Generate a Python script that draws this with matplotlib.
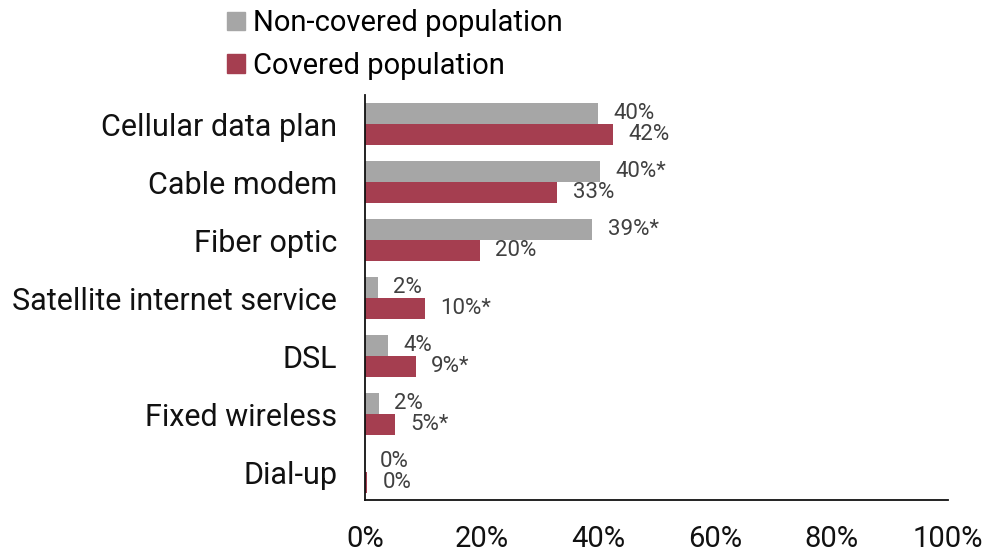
import matplotlib
matplotlib.use('Agg')
import matplotlib.pyplot as plt
from matplotlib.patches import Patch

plt.rcParams['font.family'] = ['Roboto', 'DejaVu Sans']

# Data
categories = ['Cellular data plan', 'Cable modem', 'Fiber optic',
              'Satellite internet service', 'DSL', 'Fixed wireless', 'Dial-up']
non_covered = [40.0, 40.3, 39.0, 2.2, 3.9, 2.4, 0.0]
covered = [42.5, 33.0, 19.7, 10.3, 8.7, 5.1, 0.4]
non_covered_labels = ['40%', '40%*', '39%*', '2%', '4%', '2%', '0%']
covered_labels = ['42%', '33%', '20%', '10%*', '9%*', '5%*', '0%']
x_ticks = [0, 20, 40, 60, 80, 100]

grey = '#a6a6a6'
red = '#a53e50'

fig = plt.figure(figsize=(9.98, 5.52), dpi=100)
ax = fig.add_axes([0.3657, 0.0942, 0.95 - 0.3657, 0.7337])

h = 0.36
ys = list(range(len(categories)))
ax.barh([y - h / 2 for y in ys], non_covered, height=h, color=grey)
ax.barh([y + h / 2 for y in ys], covered, height=h, color=red)

# value labels just right of each bar
for y, v, s in zip(ys, non_covered, non_covered_labels):
    ax.annotate(s, (v, y - h / 2), xytext=(11, 0), textcoords='offset points',
                va='center', ha='left', fontsize=16, color='#404040')
for y, v, s in zip(ys, covered, covered_labels):
    ax.annotate(s, (v, y + h / 2), xytext=(11, 0), textcoords='offset points',
                va='center', ha='left', fontsize=16, color='#404040')

ax.set_xlim(0, 100)
ax.set_ylim(6.48, -0.5)
ax.set_yticks(ys)
ax.set_yticklabels(categories, fontsize=22, color='#111111')
ax.set_xticks(x_ticks)
ax.set_xticklabels([f'{t}%' for t in x_ticks], fontsize=21, color='#111111')
ax.tick_params(axis='y', length=0, pad=20)
ax.tick_params(axis='x', length=0, pad=18)

for side in ['top', 'right']:
    ax.spines[side].set_visible(False)
for side in ['left', 'bottom']:
    ax.spines[side].set_color('#111111')
    ax.spines[side].set_linewidth(1.3)

handles = [Patch(color=grey, label='Non-covered population'),
           Patch(color=red, label='Covered population')]
fig.legend(handles=handles, loc='upper left', bbox_to_anchor=(0.213, 1.01),
           frameon=False, fontsize=21, handlelength=0.6, handleheight=0.6,
           handletextpad=0.3, labelspacing=0.5, borderaxespad=0.1)

plt.savefig('out.png', dpi=100)
